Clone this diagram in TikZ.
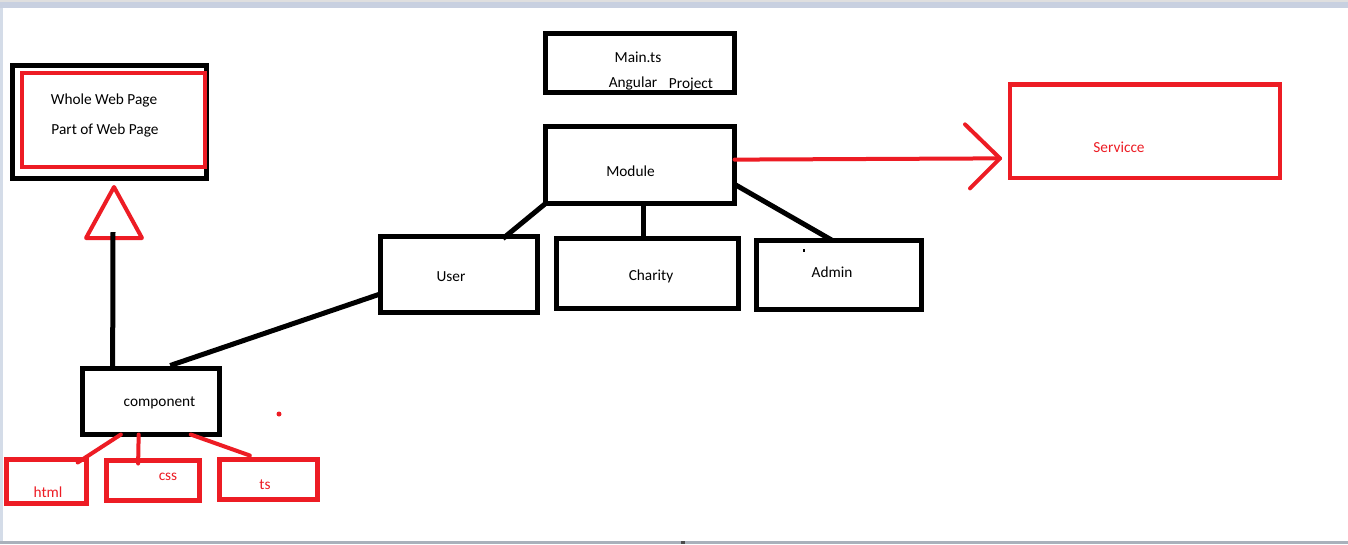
\documentclass[tikz,border=0pt]{standalone}
\usepackage{fontspec}
\setmainfont{Carlito}
\usetikzlibrary{fit,calc}
\definecolor{pred}{HTML}{ED1C24}
\definecolor{barblue}{HTML}{C8D0E0}
\definecolor{stripblue}{HTML}{D4DCE8}
\definecolor{botgray}{HTML}{A9B1BB}
\tikzset{
  bbox/.style={draw=black, line width=3.75pt, inner sep=0pt, outer sep=0pt, rectangle},
  rbox/.style={draw=pred, line width=3.5pt, inner sep=0pt, outer sep=0pt, rectangle},
  bline/.style={draw=black, line width=3.75pt},
  rline/.style={draw=pred, line width=3pt, line cap=round, line join=round},
  btxt/.style={anchor=base, inner sep=0pt, text=black, font=\fontsize{11.5}{13}\selectfont},
  rtxt/.style={anchor=base, inner sep=0pt, text=pred, font=\fontsize{11.5}{13}\selectfont},
}
\begin{document}
\begin{tikzpicture}[x=0.75pt, y=-0.75pt]
\useasboundingbox (0,0) rectangle (1348,544);
% window frame
\fill[white] (0,0) rectangle (1348,544);
\fill[gray!25] (0,0) rectangle (1348,2);
\fill[barblue] (0,2) rectangle (1348,8);
\fill[stripblue] (0,8) rectangle (3,541);
\fill[botgray] (0,541) rectangle (1348,544);
\fill[black!70] (681,541) rectangle (685,544);

% boxes
\node[bbox, fit={(12.5,65.5)(206.5,178)}] (web) {};
\node[rbox, fit={(22,73)(205,167)}] (webin) {};
\node[bbox, fit={(545.5,33.5)(734.5,92.5)}] (main) {};
\node[bbox, fit={(545.5,126.5)(734.5,203.5)}] (module) {};
\node[rbox, fit={(1010,84.5)(1280,178)}] (service) {};
\node[bbox, fit={(380.5,236.5)(537.5,312.5)}] (user) {};
\node[bbox, fit={(556.5,238.5)(738.5,308.5)}] (charity) {};
\node[bbox, fit={(756.5,240.5)(921.5,309.5)}] (admin) {};
\node[bbox, fit={(82.5,368.5)(219.5,434.5)}] (comp) {};
\node[rbox, fit={(6.5,459.5)(86.5,503.5)}] (html) {};
\node[rbox, fit={(106.5,460.5)(199.5,500.5)}] (css) {};
\node[rbox, fit={(219.5,459.5)(317.5,499.5)}] (ts) {};

% texts
\node[btxt] (t1) at (104,104) {Whole Web Page};
\node[btxt] (t2) at (105,134) {Part of Web Page};
\node[btxt] (t3) at (638,62) {Main.ts};
\node[btxt] (t4) at (633,87) {Angular};
\node[btxt] (t5) at (691,88.5) {Project};
\node[btxt] (t6) at (630.5,176) {Module};
\node[rtxt] (t7) at (1119,152) {Servicce};
\node[btxt] (t8) at (451,281) {User};
\node[btxt] (t9) at (651,280) {Charity};
\node[btxt] (t10) at (832,277) {Admin};
\node[btxt] (t11) at (159.5,406) {component};
\node[rtxt] (t12) at (48,497) {html};
\node[rtxt] (t13) at (168,480) {css};
\node[rtxt] (t14) at (265,489) {ts};

% inheritance triangle
\coordinate (tri) at (114,187);
\draw[rline] (tri) -- ++(-28,51) -- ++(56,0) -- cycle;
\draw[bline] ($(comp.north west)!0.22!(comp.north east)$) -- ($(tri)+(-1,45)$);

% component -> user
\draw[bline] ($(comp.north west)!0.64!(comp.north east)+(0,-3)$) -- ($(user.north west)!0.755!(user.south west)$);

% module -> children
\draw[bline] (module.south west) -- ($(user.north west)!0.78!(user.north east)+(0,2)$);
\coordinate (mc) at ($(module.south west)!0.52!(module.south east)$);
\draw[bline] (mc) -- (mc |- charity.north);
\draw[bline] ($(module.north east)!0.75!(module.south east)$) -- ($(admin.north west)!0.46!(admin.north east)$);
\draw[black, line width=0.9pt] (804,249) -- (804,252);

% module -> service arrow
\coordinate (tip) at ($(service.north west)!0.79!(service.south west)+(-10,0)$);
\draw[rline] ($(module.north east)!0.43!(module.south east)$) -- (tip);
\draw[rline] ($(tip)+(-35,-34)$) -- (tip) -- ($(tip)+(-30,30)$);

% component -> html/css/ts
\draw[rline] ($(comp.south west)!0.28!(comp.south east)$) -- ($(html.north west)!0.89!(html.north east)+(0,3)$);
\draw[rline] ($(comp.south west)!0.41!(comp.south east)$) -- ($(css.north west)!0.34!(css.north east)+(0,3)$);
\draw[rline] ($(comp.south west)!0.79!(comp.south east)$) -- ($(ts.north west)!0.31!(ts.north east)+(0,-4)$);

% stray dot
\fill[pred] (279,414) circle (2.5);
\end{tikzpicture}
\end{document}
